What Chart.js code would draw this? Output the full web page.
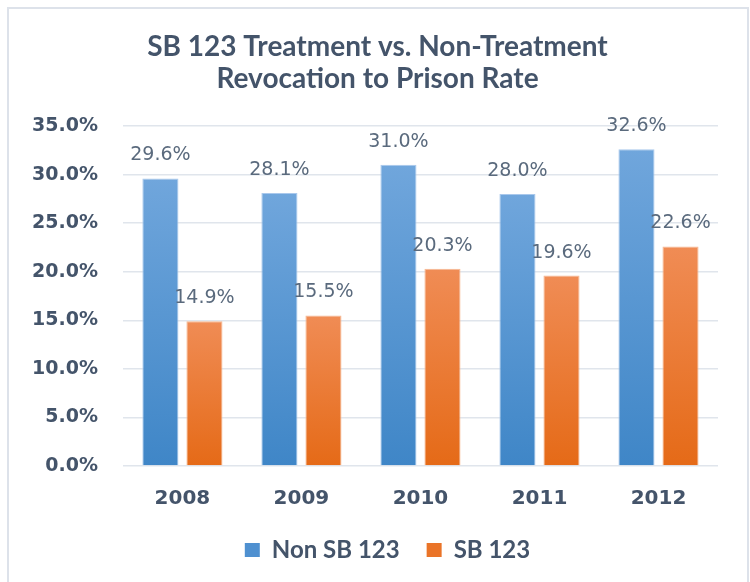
<!DOCTYPE html>
<html>
<head>
<meta charset="utf-8">
<script src="https://cdn.jsdelivr.net/npm/chart.js@4/dist/chart.umd.min.js"></script>
<style>
  html, body { margin: 0; padding: 0; background: #fff; }
  #wrap { position: relative; width: 750px; height: 582px; }
  #frame {
    position: absolute; left: 7px; top: 7px; width: 742px; height: 600px;
    box-sizing: border-box; border: 2px solid #DDE2EA; border-bottom: none;
    pointer-events: none;
  }
</style>
</head>
<body>
<div id="wrap">
  <canvas id="chart" width="750" height="582"></canvas>
  <div id="frame"></div>
</div>
<script>
// values
const years = ["2008", "2009", "2010", "2011", "2012"]
const nonSb123 = [29.6, 28.1, 31.0, 28.0, 32.6]
const sb123 = [14.9, 15.5, 20.3, 19.6, 22.6]
const yTicks = [0, 5, 10, 15, 20, 25, 30, 35]

const slate = "#44546A"

// each bar gets its own top-to-bottom gradient, like the Excel fill
function barGradient(top, bottom, fallback) {
  return (ctx) => {
    const chart = ctx.chart
    if (!chart.chartArea || ctx.raw === undefined) return fallback
    const y = chart.scales.y
    const y0 = y.getPixelForValue(ctx.raw)
    const y1 = y.getPixelForValue(0)
    const g = chart.ctx.createLinearGradient(0, y0, 0, y1)
    g.addColorStop(0, top)
    g.addColorStop(1, bottom)
    return g
  }
}

// percent labels above the bars
const valueLabels = {
  id: "valueLabels",
  afterDatasetsDraw(chart) {
    const { ctx } = chart
    ctx.save()
    ctx.font = '19px "DejaVu Sans"'
    ctx.fillStyle = "#5A6A7D"
    ctx.textAlign = "center"
    ctx.textBaseline = "alphabetic"
    chart.data.datasets.forEach((ds, i) => {
      chart.getDatasetMeta(i).data.forEach((bar, j) => {
        ctx.fillText(ds.data[j].toFixed(1) + "%", bar.x, bar.y - 18)
      })
    })
    ctx.restore()
  }
}

// the Excel title and legend sit centred on the whole frame, not on the
// space left of the y axis, so nudge them right after layout
const centreBlocks = {
  id: "centreBlocks",
  afterLayout(chart) {
    const shift = (box, dx) => {
      if (!box) return
      box.left += dx
      box.right += dx
    }
    shift(chart.titleBlock, 15)
    shift(chart.legend, 25)
  }
}

new Chart(document.getElementById("chart"), {
  type: "bar",
  data: {
    labels: years,
    datasets: [{
      label: "Non SB 123",
      data: nonSb123,
      backgroundColor: barGradient("#70A6DC", "#3F86C7", "#5A97D3"),
      borderColor: "#A9C8EC",
      borderWidth: 1,
      categoryPercentage: 0.74,
      barPercentage: 0.82
    }, {
      label: "SB 123",
      data: sb123,
      backgroundColor: barGradient("#F08C55", "#E56A17", "#EC7A35"),
      borderColor: "#F6B892",
      borderWidth: 1,
      categoryPercentage: 0.74,
      barPercentage: 0.82
    }]
  },
  options: {
    responsive: false,
    animation: false,
    layout: { padding: { left: 7, right: 32, top: 0, bottom: 10 } },
    plugins: {
      title: {
        display: true,
        text: ["SB 123 Treatment vs. Non-Treatment", "Revocation to Prison Rate"],
        color: slate,
        font: { family: "Lato", size: 28, weight: "bold", lineHeight: 1.143 },
        padding: { top: 31, bottom: 31 }
      },
      legend: {
        position: "bottom",
        labels: {
          color: slate,
          font: { family: "Lato", size: 24, weight: "bold" },
          boxWidth: 15,
          boxHeight: 14,
          padding: 27,
          generateLabels(chart) {
            const fills = ["#4F90D0", "#EA7428"]
            return chart.data.datasets.map((ds, i) => ({
              text: ds.label,
              fillStyle: fills[i],
              strokeStyle: fills[i],
              lineWidth: 0,
              datasetIndex: i,
              fontColor: slate
            }))
          }
        }
      },
      tooltip: { enabled: false }
    },
    scales: {
      x: {
        grid: { display: false, drawTicks: false },
        border: { display: false },
        ticks: {
          color: slate,
          padding: 21,
          font: { family: "DejaVu Sans", size: 20, weight: "bold" }
        },
        afterFit(scale) { scale.height = 45 }
      },
      y: {
        min: 0,
        max: 35,
        afterBuildTicks(axis) {
          axis.ticks = yTicks.map(v => ({ value: v }))
        },
        grid: { color: "#E0E5EC", lineWidth: 1.5, drawTicks: false },
        border: { display: false },
        ticks: {
          color: slate,
          padding: 25,
          font: { family: "DejaVu Sans", size: 19, weight: "bold" },
          callback: (v) => v.toFixed(1) + "%"
        }
      }
    }
  },
  plugins: [valueLabels, centreBlocks]
})
</script>
</body>
</html>
